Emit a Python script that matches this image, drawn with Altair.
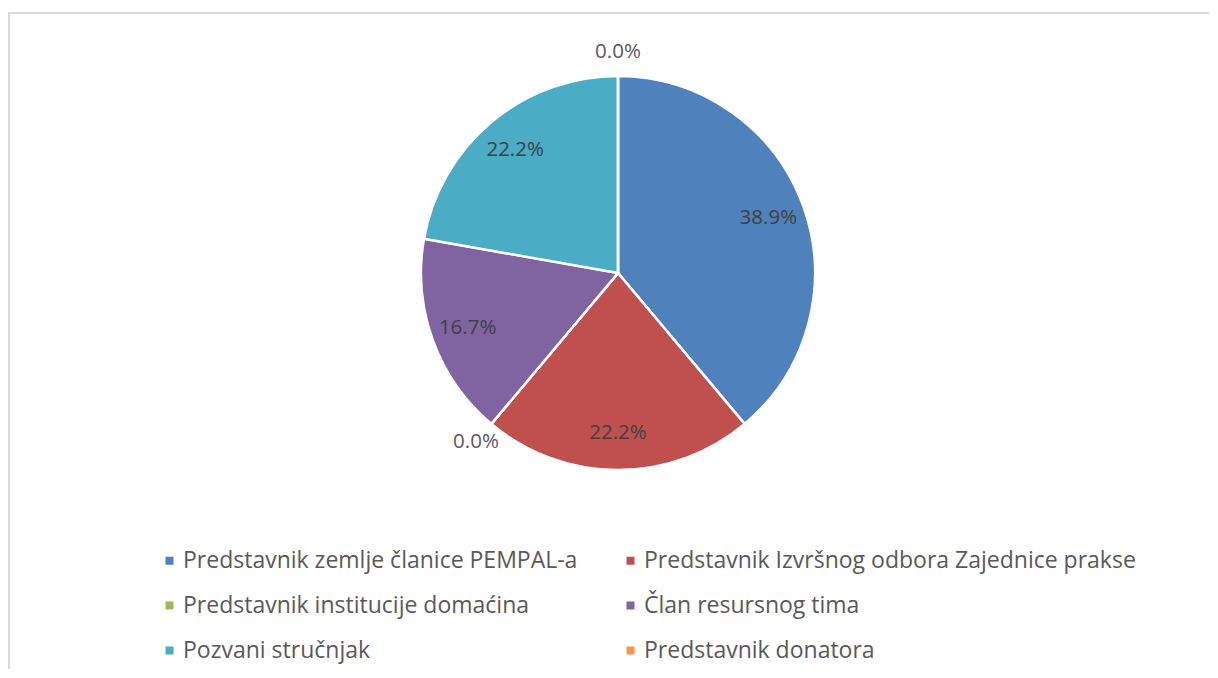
import altair as alt
import pandas as pd

categories = [
    "Predstavnik zemlje članice PEMPAL-a",
    "Predstavnik Izvršnog odbora Zajednice prakse",
    "Predstavnik institucije domaćina",
    "Član resursnog tima",
    "Pozvani stručnjak",
    "Predstavnik donatora",
]
counts = [7, 4, 0, 3, 4, 0]
colors = ["#4F81BD", "#C0504D", "#9BBB59", "#8064A2", "#4BACC6", "#F79646"]

df = pd.DataFrame({"kategorija": categories, "broj": counts})

FONT = "Open Sans"

base = (
    alt.Chart(df)
    .transform_window(idx="row_number()")
    .transform_joinaggregate(ukupno="sum(broj)")
    .transform_calculate(
        lab_in="datum.broj > 0 ? format(datum.broj / datum.ukupno, '.1%') : ''",
        lab_out="datum.broj == 0 ? format(datum.broj / datum.ukupno, '.1%') : ''",
    )
    .encode(
        theta=alt.Theta("broj:Q", stack=True),
        order=alt.Order("idx:Q", sort="ascending"),
    )
)

pie = base.mark_arc(outerRadius=197, stroke="white", strokeWidth=2.5).encode(
    color=alt.Color(
        "kategorija:N",
        scale=alt.Scale(domain=categories, range=colors),
        sort=None,
        legend=alt.Legend(
            title=None,
            orient="none",
            legendX=30,
            legendY=476,
            direction="horizontal",
            columns=2,
            columnPadding=41,
            rowPadding=21,
            symbolType="square",
            symbolSize=64,
            symbolStrokeWidth=0,
            labelOffset=2,
            labelFont=FONT,
            labelFontSize=23,
            labelColor="#595959",
            labelLimit=0,
        ),
    )
)

txt_in = base.mark_text(radius=160, font=FONT, fontSize=20.5, color="#404040").encode(
    text="lab_in:N"
)
txt_out = base.mark_text(radius=221, font=FONT, fontSize=20.5, color="#595959").encode(
    text="lab_out:N"
)

border_top = alt.Chart(df).mark_rule(color="#d9d9d9", strokeWidth=2).encode(
    x=alt.value(-120), x2=alt.value(1100), y=alt.value(-60)
)
border_left = alt.Chart(df).mark_rule(color="#d9d9d9", strokeWidth=2).encode(
    x=alt.value(-119), y=alt.value(-60), y2=alt.value(640)
)

chart = (
    alt.layer(border_top, border_left, pie, txt_in, txt_out)
    .properties(
        width=980,
        height=400,
        padding={"left": 120, "top": 65, "right": 101, "bottom": 196},
        autosize=alt.AutoSizeParams(type="none"),
    )
    .configure_view(stroke=None)
)

chart.save("out.html", embed_options={"renderer": "svg", "actions": False})
